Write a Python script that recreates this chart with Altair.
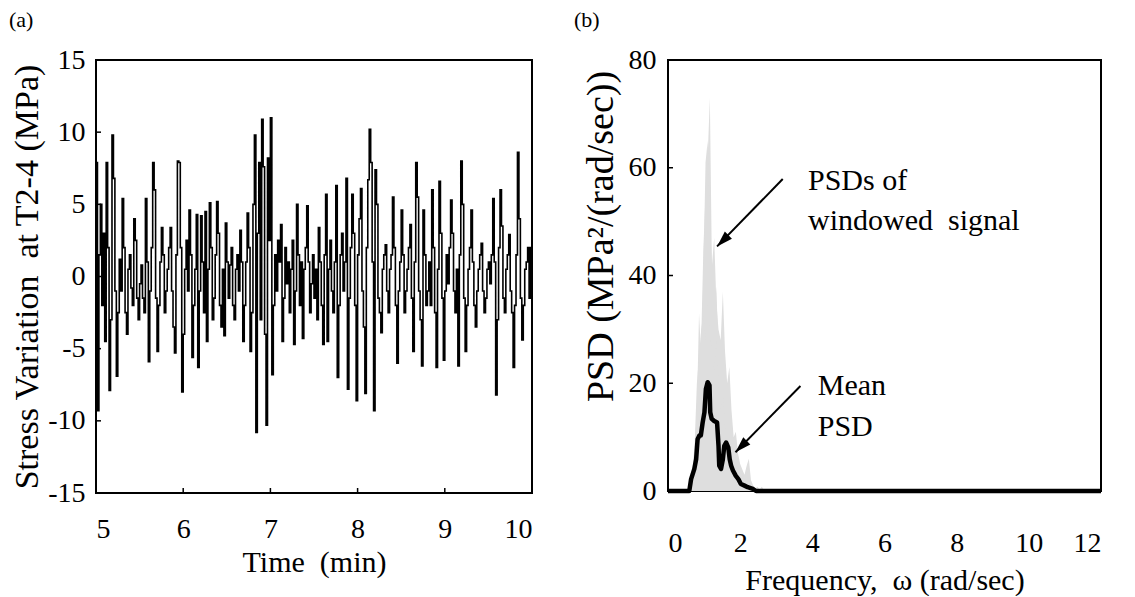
import altair as alt
import pandas as pd

FONT = "Liberation Serif"

# ---------------- panel (a): stress time history ----------------
t_start_min = 5.0
sample_interval_min = 1.0 / 60.0
stress = [
    7.9, -9.3, 1.5, 5.0, -2.0, 3.0, -4.5, 7.9, 2.0, -7.9,
    -3.0, 9.8, 6.8, -1.0, -6.9, -2.5, 1.2, -1.0, 5.4, 2.0,
    -2.5, -4.0, 0.5, 1.5, -0.8, -2.0, 4.0, 2.5, -1.5, -3.0,
    -0.5, 0.8, -1.5, -2.5, 5.4, 1.0, -5.9, -1.0, 2.0, 7.9,
    6.0, -1.5, -5.2, -2.0, 1.0, 3.4, 1.5, -2.5, -1.0, 0.5,
    2.0, 3.4, -1.0, -3.5, -5.3, 1.5, 8.0, 7.9, 2.0, -8.0,
    -4.0, 0.5, 2.5, -1.0, 4.6, 1.5, -5.6, -2.0, 0.5, 4.3,
    -6.3, -1.0, 4.2, 1.0, -2.5, 4.5, -4.5, 0.5, 5.1, 2.0,
    -3.0, -1.5, 1.5, 5.2, 3.0, -2.0, -3.5, 0.5, -4.1, 3.7,
    1.0, -1.5, 0.8, 2.0, -2.0, -3.0, 0.5, 1.5, -1.0, 3.2,
    1.0, -4.5, -2.0, 1.0, 4.4, 2.0, -5.2, -2.5, 5.0, 9.8,
    -10.8, 3.0, 7.9, -3.0, 10.9, 7.6, -4.0, -10.3, 8.2, 2.5,
    11.0, -6.8, -2.0, 1.5, -1.0, 2.5, 1.0, 3.6, -4.5, -1.5,
    2.0, -0.5, 1.0, -2.5, 0.5, 2.5, -4.7, -1.0, 5.0, 1.5,
    -2.0, 1.0, -4.3, 0.5, 2.0, 4.9, 1.0, -2.5, -0.5, 1.5,
    -1.5, 0.5, -3.0, 3.4, 1.0, -2.0, -4.7, 1.5, 5.7, -4.5,
    0.5, 2.5, -1.0, -2.5, 1.0, 6.3, -7.0, -2.0, 1.5, 3.0,
    -1.0, 1.0, 6.8, -7.8, -1.5, 2.0, 5.7, 3.0, -2.0, -8.6,
    1.5, 4.0, 6.1, -1.0, -3.5, -8.1, 2.0, 6.7, 10.2, 7.9,
    1.0, -9.3, 7.4, 5.0, -1.5, -2.5, -3.9, 0.5, 1.5, 2.2,
    -1.0, -2.5, 0.5, 1.5, 5.5, 2.0, -2.0, -6.0, -1.0, 1.0,
    4.6, 1.5, -2.5, -1.0, 0.5, 2.0, 3.6, -1.5, -5.2, 1.0,
    7.9, 5.5, -1.0, -3.0, -6.2, 4.6, 1.5, -2.0, -1.0, 1.0,
    -2.0, 6.0, 2.0, -2.5, -6.3, 0.5, 6.6, 3.0, -1.5, -5.8,
    -1.0, 1.5, -0.5, 2.0, 5.3, 3.0, -1.0, -2.5, 0.5, -6.2,
    1.5, 8.0, 5.0, -1.5, -5.2, -2.0, 0.5, 2.0, 4.6, 1.0,
    -2.0, -3.5, -1.0, 0.5, 1.5, 2.3, -1.0, -2.5, -1.5, 0.5,
    1.0, -0.5, 1.5, 5.4, 1.0, -8.2, -3.0, 2.0, 6.0, 3.5,
    -1.5, -2.5, 0.5, 1.5, 2.9, -1.0, -2.5, -6.3, -2.0, 1.5,
    8.6, 4.0, -1.5, -4.4, -2.0, 0.5, 1.0, 2.0, -1.5, 2.0,
    1.8,
]
time_min = [t_start_min + i * sample_interval_min for i in range(len(stress))]

a_x_ticks = [5, 6, 7, 8, 9, 10]
a_y_ticks = [-15, -10, -5, 0, 5, 10, 15]
a_x_inner = [6, 7, 8, 9]
a_y_inner = [-10, -5, 0, 5, 10]

# ---------------- panel (b): PSDs ----------------
psd_freq = [0.50, 0.56, 0.62, 0.68, 0.74, 0.80, 0.86, 0.92, 0.98, 1.04,
            1.10, 1.16, 1.22, 1.28, 1.34, 1.40, 1.46, 1.52, 1.58, 1.64,
            1.70, 1.76, 1.82, 1.88, 1.94, 2.00, 2.06, 2.12, 2.18, 2.24,
            2.30, 2.36, 2.42, 2.48, 2.54, 2.60, 2.66, 2.72, 2.80]
psd_win1 = [0, 0, 0.5, 2, 5, 10, 18, 28, 45, 55,
            62, 73, 40, 30, 38, 25, 18, 22, 15, 10,
            12, 6, 4, 3, 2, 1.5, 1, 0.8, 0.5, 0.3,
            0, 0, 0, 0, 0, 0, 0, 0, 0]
psd_win2 = [0, 0.5, 1, 3, 8, 15, 33, 25, 40, 61,
            65, 50, 42, 47, 35, 30, 28, 37, 26, 20,
            23, 15, 10, 11, 7, 5, 4, 3, 4.7, 6,
            2, 1, 0.5, 0.8, 0.3, 0.8, 0.2, 0, 0]
psd_win3 = [0, 0, 0.5, 4, 9, 20, 25, 30, 33, 28,
            35, 30, 25, 22, 28, 20, 15, 18, 12, 8,
            6, 4, 3, 2, 1.5, 1, 0.5, 0.3, 0, 0,
            0, 0, 0, 0, 0, 0, 0, 0, 0]

mean_freq = [0.0, 0.59, 0.64, 0.73, 0.78, 0.82, 0.87, 0.91, 0.96, 1.01,
             1.05, 1.10, 1.15, 1.17, 1.21, 1.28, 1.36, 1.40, 1.42, 1.47,
             1.52, 1.56, 1.61, 1.67, 1.71, 1.75, 1.80, 1.88, 1.95, 2.02,
             2.12, 2.21, 2.35, 2.44, 12.0]
mean_psd = [0.0, 0.0, 2.2, 4.1, 5.9, 9.6, 10.3, 10.3, 12.7, 14.6,
            18.9, 20.2, 19.6, 14.6, 13.4, 13.0, 12.7, 8.4, 4.7, 4.1,
            5.9, 8.4, 9.0, 8.1, 5.9, 4.7, 3.8, 2.8, 2.2, 1.3,
            1.0, 0.7, 0.4, 0.0, 0.0]

b_x_ticks = [0, 2, 4, 6, 8, 10, 12]
b_y_ticks = [0, 20, 40, 60, 80]
b_y_inner = [20, 40, 60]

note_text = ["PSDs of", "windowed\u00a0 signal", "Mean", "PSD"]
note_freq = [3.88, 3.88, 4.15, 4.15]
note_psd = [57.6, 50.2, 19.5, 11.8]

arrow_f0 = [3.18, 3.67]
arrow_p0 = [57.9, 19.5]
arrow_f1 = [1.36, 1.87]
arrow_p1 = [45.4, 7.2]

# ---------------- build panel (a) ----------------
df_a = pd.DataFrame({"t": time_min, "s": stress})
xa = alt.Scale(domain=[5, 10], nice=False, zero=False)
ya = alt.Scale(domain=[-15, 15], nice=False)

line_a = alt.Chart(df_a).mark_line(
    interpolate="step-after", color="black", strokeWidth=1.6
).encode(
    x=alt.X("t:Q", scale=xa, axis=alt.Axis(
        values=a_x_ticks, title="Time\u00a0 (min)", labelPadding=22,
        titlePadding=4, labelExpr="'' + datum.value")),
    y=alt.Y("s:Q", scale=ya, axis=alt.Axis(
        values=a_y_ticks, title="Stress Variation\u00a0 at T2-4 (MPa)",
        labelPadding=11, titlePadding=3, titleFontSize=34,
        labelExpr="'' + datum.value")),
)
tick_ya = alt.Chart(pd.DataFrame({"v": a_y_inner})).mark_rule(
    color="black", strokeWidth=1.5
).encode(y=alt.Y("v:Q", scale=ya), x=alt.value(0), x2=alt.value(5))
tick_xa = alt.Chart(pd.DataFrame({"v": a_x_inner})).mark_rule(
    color="black", strokeWidth=1.5
).encode(x=alt.X("v:Q", scale=xa), y=alt.value(433), y2=alt.value(428))

panel_a = alt.layer(line_a, tick_ya, tick_xa).properties(
    width=436, height=433,
    title=alt.TitleParams("(a)", anchor="start", frame="group", dx=-87,
                          offset=14, font=FONT, fontSize=22,
                          fontWeight="normal", color="black"),
)

# ---------------- build panel (b) ----------------
rows = []
for name, vals in (("w1", psd_win1), ("w2", psd_win2), ("w3", psd_win3)):
    for f, p in zip(psd_freq, vals):
        rows.append({"window": name, "f": f, "p": p})
df_w = pd.DataFrame(rows)
df_m = pd.DataFrame({"f": mean_freq, "p": mean_psd})
df_n = pd.DataFrame({"f": note_freq, "p": note_psd, "txt": note_text})
df_ar = pd.DataFrame({"f0": arrow_f0, "p0": arrow_p0, "f1": arrow_f1, "p1": arrow_p1})

xb = alt.Scale(domain=[0, 12], nice=False)
yb = alt.Scale(domain=[0, 80], nice=False)

gray = alt.Chart(df_w).mark_area(color="#dedede", opacity=1).encode(
    x=alt.X("f:Q", scale=xb, axis=alt.Axis(
        values=b_x_ticks, title="Frequency,\u00a0 \u03c9 (rad/sec)",
        labelPadding=38, titlePadding=8)),
    y=alt.Y("p:Q", scale=yb, stack=None, axis=alt.Axis(
        values=b_y_ticks, title="PSD (MPa\u00b2/(rad/sec))",
        labelPadding=12, titlePadding=8, titleFontSize=38, titleY=176)),
    detail="window:N",
)
mean_line = alt.Chart(df_m).mark_line(
    color="black", strokeWidth=4.5, strokeJoin="round"
).encode(x=alt.X("f:Q", scale=xb), y=alt.Y("p:Q", scale=yb))
tick_yb = alt.Chart(pd.DataFrame({"v": b_y_inner})).mark_rule(
    color="black", strokeWidth=1.5
).encode(y=alt.Y("v:Q", scale=yb), x=alt.value(0), x2=alt.value(5))
notes = alt.Chart(df_n).mark_text(
    align="left", baseline="middle", font=FONT, fontSize=30, color="black"
).encode(x=alt.X("f:Q", scale=xb), y=alt.Y("p:Q", scale=yb), text="txt:N")
shafts = alt.Chart(df_ar).mark_rule(color="black", strokeWidth=2).encode(
    x=alt.X("f0:Q", scale=xb), y=alt.Y("p0:Q", scale=yb),
    x2="f1:Q", y2="p1:Q",
)
heads = alt.Chart(df_ar).mark_point(
    shape="M0,0L-1,3.2L1,3.2Z", filled=True, color="black", opacity=1,
    size=100, angle=225,
).encode(x=alt.X("f1:Q", scale=xb), y=alt.Y("p1:Q", scale=yb))

panel_b = alt.layer(gray, mean_line, tick_yb, notes, shafts, heads).properties(
    width=433, height=431,
    title=alt.TitleParams("(b)", anchor="start", frame="group", dx=-94,
                          offset=14, font=FONT, fontSize=22,
                          fontWeight="normal", color="black"),
)

chart = alt.hconcat(panel_a, panel_b, spacing=136, bounds="flush").configure_view(
    stroke="black", strokeWidth=2
).configure_axis(
    grid=False, domain=False, ticks=False,
    labelFont=FONT, labelFontSize=28, labelColor="black",
    titleFont=FONT, titleFontSize=30, titleFontWeight="normal", titleColor="black",
).properties(padding=0, background="white")

chart.save("out.html", embed_options={"renderer": "svg", "actions": False})
